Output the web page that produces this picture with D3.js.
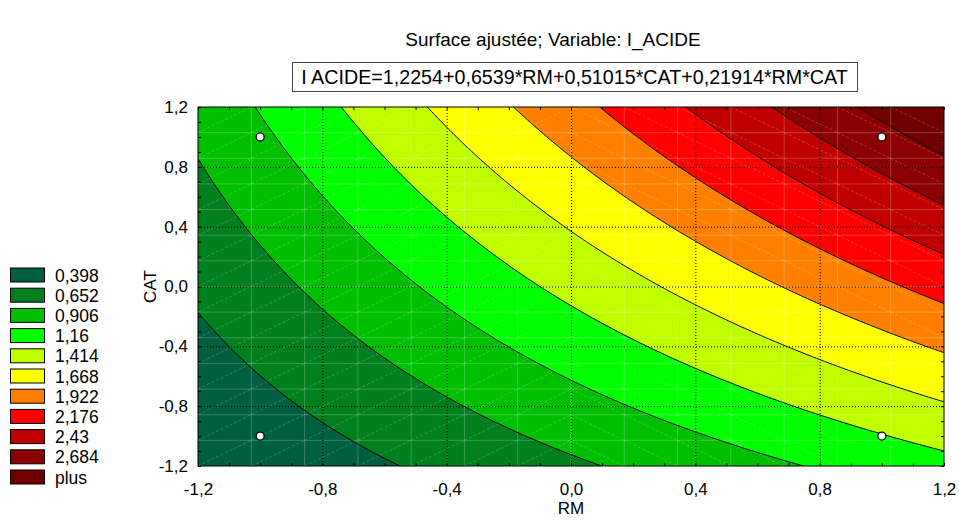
<!DOCTYPE html>
<html><head><meta charset="utf-8">
<script src="https://cdn.jsdelivr.net/npm/d3@7"></script>
<style>
body{margin:0;background:#fff;}
text{font-family:"Liberation Sans",Arial,sans-serif;fill:#000;}
</style></head>
<body><svg id="c" width="959" height="525"></svg>
<script>
// ---- data ----
const coefNames = ["const","RM","CAT","RM*CAT"];
const coefs = [1.2254, 0.6539, 0.51015, 0.21914];
const levels = [0.398, 0.652, 0.906, 1.16, 1.414, 1.668, 1.922, 2.176, 2.43, 2.684];
const legendLabels = ["0,398","0,652","0,906","1,16","1,414","1,668","1,922","2,176","2,43","2,684","plus"];
const bandColors = ["#005f3f","#007f1f","#00bf00","#00ff00","#bfff00","#ffff00","#ff8000","#ff0000","#c00000","#8b0000","#700000"];
const designRM = [-1, -1, 1, 1];
const designCAT = [-1, 1, -1, 1];
const xTicks = [-1.2,-0.8,-0.4,0.0,0.4,0.8,1.2];
const yTicks = [-1.2,-0.8,-0.4,0.0,0.4,0.8,1.2];
const titleText = "Surface ajustée; Variable: I_ACIDE";
const equationText = "I ACIDE=1,2254+0,6539*RM+0,51015*CAT+0,21914*RM*CAT";

// ---- layout ----
const svg = d3.select("#c");
const L = 198, R = 944, T = 107, B = 466;
const x = d3.scaleLinear().domain([-1.2,1.2]).range([L,R]);
const y = d3.scaleLinear().domain([-1.2,1.2]).range([B,T]);
const fmt = v => d3.format(".1f")(v).replace("−","-").replace(".",",");

const surf = (a,b) => coefs[0] + coefs[1]*a + coefs[2]*b + coefs[3]*a*b;

// grid
const n = 241, m = 241;
const vals = new Array(n*m);
const stepX = 2.4/(n-1), stepY = 2.4/(m-1);
for (let j=0;j<m;j++) for (let i=0;i<n;i++) vals[j*n+i] = surf(-1.2+i*stepX, 1.2-j*stepY);

const proj = d3.geoTransform({point: function(u,v){
  this.stream.point(x(-1.2 + (u-0.5)*stepX), y(1.2 - (v-0.5)*stepY));
}});
const path = d3.geoPath(proj);

svg.append("clipPath").attr("id","clip").append("rect")
  .attr("x",L).attr("y",T).attr("width",R-L).attr("height",B-T);

const g = svg.append("g").attr("clip-path","url(#clip)");
g.append("rect").attr("x",L).attr("y",T).attr("width",R-L).attr("height",B-T).attr("fill",bandColors[0]);

const conts = d3.contours().size([n,m]).thresholds(levels)(vals);
g.selectAll("path.band").data(conts).join("path").attr("class","band")
  .attr("d",path).attr("fill",(d,i)=>bandColors[i+1]).attr("stroke","none");

// faint mesh (14x14) with diagonals
const mesh = d3.range(15).map(k => -1.2 + k*2.4/14);
const meshG = g.append("g").attr("stroke","#fff").attr("stroke-opacity",0.22).attr("stroke-width",1);
mesh.slice(1,-1).forEach(v=>{
  meshG.append("line").attr("x1",x(v)).attr("x2",x(v)).attr("y1",T).attr("y2",B);
  meshG.append("line").attr("y1",y(v)).attr("y2",y(v)).attr("x1",L).attr("x2",R);
});
const diagG = g.append("g").attr("stroke","#fff").attr("stroke-opacity",0.25).attr("stroke-width",0.8).attr("stroke-dasharray","3,2");
for (let i=0;i<14;i++) for (let j=0;j<14;j++){
  const a0=mesh[i], a1=mesh[i+1], b0=mesh[j], b1=mesh[j+1];
  if (i<7) diagG.append("line").attr("x1",x(a0)).attr("y1",y(b0)).attr("x2",x(a1)).attr("y2",y(b1));
  else diagG.append("line").attr("x1",x(a0)).attr("y1",y(b1)).attr("x2",x(a1)).attr("y2",y(b0));
}

// contour lines
g.selectAll("path.line").data(conts).join("path").attr("class","line")
  .attr("d",path).attr("fill","none").attr("stroke","#000").attr("stroke-width",1);

// dotted grid
const gridG = g.append("g").attr("stroke","#000").attr("stroke-width",1).attr("stroke-dasharray","1,2");
xTicks.slice(1,-1).forEach(v=>gridG.append("line").attr("x1",x(v)+0.5).attr("x2",x(v)+0.5).attr("y1",T).attr("y2",B));
yTicks.slice(1,-1).forEach(v=>gridG.append("line").attr("y1",y(v)+0.5).attr("y2",y(v)+0.5).attr("x1",L).attr("x2",R));

// design points
g.selectAll("circle.pt").data(d3.range(designRM.length)).join("circle").attr("class","pt")
  .attr("cx",i=>x(designRM[i])).attr("cy",i=>y(designCAT[i])).attr("r",4)
  .attr("fill","#fff").attr("stroke","#000").attr("stroke-width",1.3);

// frame
svg.append("rect").attr("x",L).attr("y",T).attr("width",R-L).attr("height",B-T)
  .attr("fill","none").attr("stroke","#000").attr("stroke-width",1);

// axes with inner ticks
const minor = d3.range(-12,13).map(k=>k/10);
const xAx = d3.axisBottom(x).tickValues(xTicks).tickFormat(fmt).tickSize(0).tickPadding(17);
const xa = svg.append("g").attr("transform",`translate(0,${B})`).call(xAx);
xa.select(".domain").remove();
xa.selectAll("text").attr("font-size",17).attr("font-family","Liberation Sans, Arial");
const yAx = d3.axisLeft(y).tickValues(yTicks).tickFormat(fmt).tickSize(0).tickPadding(10);
const ya = svg.append("g").attr("transform",`translate(${L},0)`).call(yAx);
ya.select(".domain").remove();
ya.selectAll("text").attr("font-size",17).attr("font-family","Liberation Sans, Arial");

const tk = svg.append("g").attr("stroke","#000").attr("stroke-width",1);
minor.forEach(v=>{
  tk.append("line").attr("x1",x(v)+0.5).attr("x2",x(v)+0.5).attr("y1",B).attr("y2",B-3);
  tk.append("line").attr("x1",x(v)+0.5).attr("x2",x(v)+0.5).attr("y1",T).attr("y2",T+3);
  tk.append("line").attr("y1",y(v)+0.5).attr("y2",y(v)+0.5).attr("x1",L).attr("x2",L+3);
  tk.append("line").attr("y1",y(v)+0.5).attr("y2",y(v)+0.5).attr("x1",R).attr("x2",R-3);
});

// axis titles
svg.append("text").attr("x",(L+R)/2).attr("y",514).attr("text-anchor","middle").attr("font-size",17).text("RM");
svg.append("text").attr("transform",`translate(156,${(T+B)/2}) rotate(-90)`).attr("text-anchor","middle").attr("font-size",17).text("CAT");

// title + equation box
svg.append("text").attr("x",553).attr("y",46).attr("text-anchor","middle").attr("font-size",19).text(titleText);
svg.append("rect").attr("x",292.5).attr("y",62.5).attr("width",565).attr("height",29)
  .attr("fill","#fff").attr("stroke","#444").attr("stroke-width",1);
svg.append("text").attr("x",574.5).attr("y",84).attr("text-anchor","middle").attr("font-size",19.7).text(equationText);

// legend
const lg = svg.append("g");
legendLabels.forEach((lab,i)=>{
  const cy = 275.5 + i*20.2;
  lg.append("rect").attr("x",10.5).attr("y",cy-7.5).attr("width",34).attr("height",14)
    .attr("fill",bandColors[i]).attr("stroke","#000").attr("stroke-width",1);
  lg.append("text").attr("x",55).attr("y",cy+6).attr("font-size",17.5).text(lab);
});
</script></body></html>
